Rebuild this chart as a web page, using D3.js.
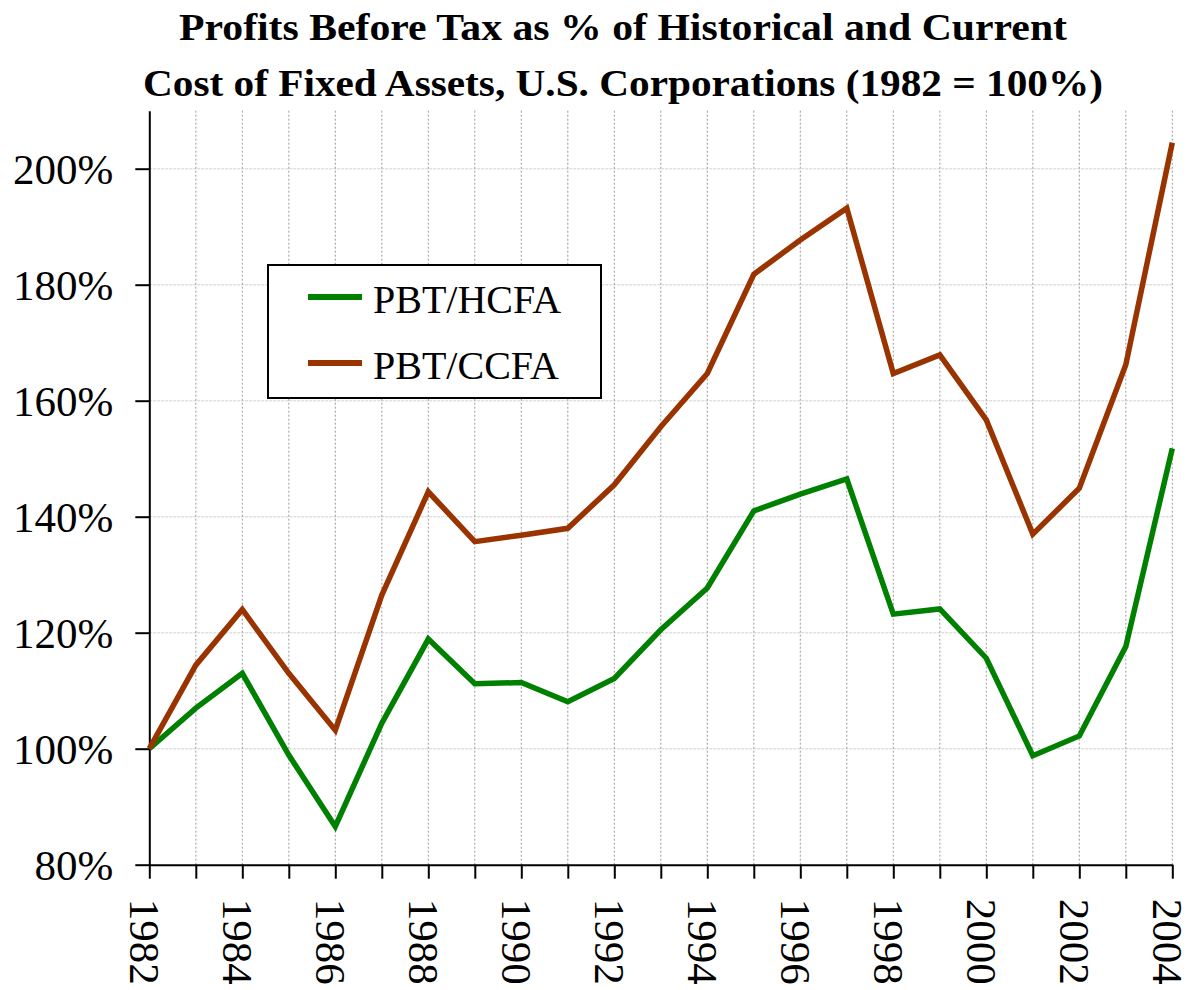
<!DOCTYPE html>
<html>
<head>
<meta charset="utf-8">
<script src="https://cdn.jsdelivr.net/npm/d3@7"></script>
<style>
  html, body { margin: 0; padding: 0; background: #fff; }
  svg { display: block; }
</style>
</head>
<body>
<svg id="chart" width="1191" height="990"></svg>
<script>
const years = [1982,1983,1984,1985,1986,1987,1988,1989,1990,1991,1992,1993,1994,1995,1996,1997,1998,1999,2000,2001,2002,2003,2004];
const hcfa = [100,107.0,113.0,98.9,86.6,104.4,118.9,111.2,111.4,108.1,112.1,120.5,127.7,141.0,143.9,146.5,123.2,124.1,115.6,98.8,102.2,117.6,151.8];
const ccfa = [100,114.4,124.0,113.0,103.2,126.5,144.3,135.7,136.8,138.0,145.5,155.5,164.7,181.8,187.7,193.2,164.7,167.9,156.7,137.0,144.9,166.2,204.5];
const yTicks = [80,100,120,140,160,180,200];
const seriesNames = ["PBT/HCFA","PBT/CCFA"];
const titleLines = ["Profits Before Tax as % of Historical and Current","Cost of Fixed Assets, U.S. Corporations (1982 = 100%)"];

const colors = ["#008000", "#993300"];
const serif = "'Liberation Serif', 'Times New Roman', serif";

const svg = d3.select("#chart");
const x = d3.scaleLinear().domain([1982, 2004]).range([149.3, 1172.3]);
const y = d3.scaleLinear().domain([80, 210]).range([864.7, 110.7]);

// gridlines
const grid = svg.append("g");
grid.selectAll("line.h").data(yTicks.filter(d => d > 80)).join("line")
  .attr("x1", x(1982)).attr("x2", x(2004))
  .attr("y1", d => y(d)).attr("y2", d => y(d))
  .attr("stroke", "#e0e0e0").attr("stroke-width", 1.5).attr("stroke-dasharray", "3,1");
grid.selectAll("line.v").data(years.slice(1)).join("line")
  .attr("x1", d => x(d)).attr("x2", d => x(d))
  .attr("y1", y(210)).attr("y2", y(80))
  .attr("stroke", "#9a9a9a").attr("stroke-width", 1).attr("stroke-dasharray", "2,2");

// axes
const yAxis = svg.append("g").attr("transform", `translate(${x(1982)},0)`)
  .call(d3.axisLeft(y).tickValues(yTicks).tickSize(14).tickSizeOuter(0).tickPadding(10).tickFormat(d => d + "%"));
const xAxis = svg.append("g").attr("transform", `translate(0,${y(80)})`)
  .call(d3.axisBottom(x).tickValues(years).tickSize(14).tickSizeOuter(0).tickFormat(d => d % 2 === 0 ? String(d) : ""));

[yAxis, xAxis].forEach(a => {
  a.select(".domain").attr("stroke", "#000").attr("stroke-width", 2);
  a.selectAll(".tick line").attr("stroke", "#000").attr("stroke-width", 2);
  a.selectAll("text").attr("fill", "#000").style("font-family", serif).style("font-size", "43px");
});
yAxis.selectAll("text").attr("x", -36).attr("dy", "0.35em");
xAxis.selectAll("text")
  .attr("transform", "rotate(90)")
  .attr("x", 34).attr("y", 0).attr("dy", "0.45em")
  .attr("text-anchor", "start");

// lines
const line = d3.line().x((d, i) => x(years[i])).y(d => y(d));
[hcfa, ccfa].forEach((s, k) => {
  svg.append("path").datum(s)
    .attr("d", line)
    .attr("fill", "none")
    .attr("stroke", colors[k])
    .attr("stroke-width", 5.5)
    .attr("stroke-linejoin", "miter");
});

// legend
const lg = svg.append("g");
lg.append("rect").attr("x", 268).attr("y", 265).attr("width", 333).attr("height", 133)
  .attr("fill", "#fff").attr("stroke", "#000").attr("stroke-width", 2);
seriesNames.forEach((n, i) => {
  const cy = 297 + i * 66;
  lg.append("line").attr("x1", 308).attr("x2", 362).attr("y1", cy).attr("y2", cy)
    .attr("stroke", colors[i]).attr("stroke-width", 6);
  lg.append("text").attr("x", 373).attr("y", 313 + i * 66)
    .style("font-family", serif).style("font-size", "40px").attr("fill", "#000").text(n);
});

// title
const titleWidths = [888, 960];
svg.append("g").selectAll("text").data(titleLines).join("text")
  .attr("x", 623).attr("y", (d, i) => 40 + i * 56)
  .attr("text-anchor", "middle")
  .attr("textLength", (d, i) => titleWidths[i])
  .attr("lengthAdjust", "spacingAndGlyphs")
  .style("font-family", serif).style("font-size", "38px").style("font-weight", "bold")
  .attr("fill", "#000").text(d => d);
</script>
</body>
</html>
